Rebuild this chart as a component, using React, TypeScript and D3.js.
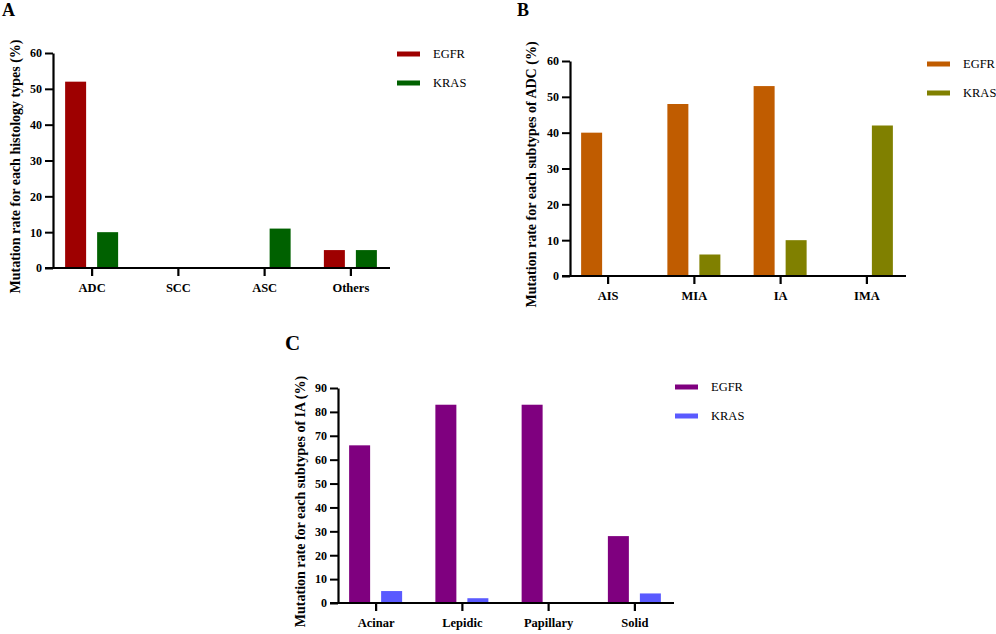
import React, { useEffect, useRef } from "react";
import * as d3 from "d3";

// Panel A: histology types
const histologyTypes = ["ADC", "SCC", "ASC", "Others"];
const histologyEgfr = [52, 0, 0, 5];
const histologyKras = [10, 0, 11, 5];

// Panel B: subtypes of ADC
const adcSubtypes = ["AIS", "MIA", "IA", "IMA"];
const adcEgfr = [40, 48, 53, 0];
const adcKras = [0, 6, 10, 42];

// Panel C: subtypes of IA
const iaSubtypes = ["Acinar", "Lepidic", "Papillary", "Solid"];
const iaEgfr = [66, 83, 83, 28];
const iaKras = [5, 2, 0, 4];

const seriesNames = ["EGFR", "KRAS"];
const yTicks60 = [0, 10, 20, 30, 40, 50, 60];
const yTicks90 = [0, 10, 20, 30, 40, 50, 60, 70, 80, 90];

interface Panel {
  letter: string;
  title: string;
  categories: string[];
  egfr: number[];
  kras: number[];
  ticks: number[];
  colors: string[];
  // layout
  axisX: number;
  xEnd: number;
  yTop: number;
  yZero: number;
  bandLeft: number;
  bandRight: number;
  titleX: number;
  letterX: number;
  letterY: number;
  letterSize: number;
  legendX: number;
  legendY: number;
}

const panels: Panel[] = [
  {
    letter: "A",
    title: "Mutation rate for each histology types (%)",
    categories: histologyTypes,
    egfr: histologyEgfr,
    kras: histologyKras,
    ticks: yTicks60,
    colors: ["#9e0000", "#006100"],
    axisX: 53,
    xEnd: 390,
    yTop: 53,
    yZero: 268,
    bandLeft: 49,
    bandRight: 394,
    titleX: 20,
    letterX: 2,
    letterY: 16,
    letterSize: 18,
    legendX: 397,
    legendY: 54,
  },
  {
    letter: "B",
    title: "Mutation rate for each subtypes of ADC (%)",
    categories: adcSubtypes,
    egfr: adcEgfr,
    kras: adcKras,
    ticks: yTicks60,
    colors: ["#c05c00", "#808000"],
    axisX: 570,
    xEnd: 906,
    yTop: 61,
    yZero: 276,
    bandLeft: 565,
    bandRight: 910,
    titleX: 536,
    letterX: 517,
    letterY: 16,
    letterSize: 18,
    legendX: 927,
    legendY: 64,
  },
  {
    letter: "C",
    title: "Mutation rate for each subtypes of IA (%)",
    categories: iaSubtypes,
    egfr: iaEgfr,
    kras: iaKras,
    ticks: yTicks90,
    colors: ["#7f007f", "#5a5aff"],
    axisX: 338,
    xEnd: 674,
    yTop: 388,
    yZero: 603,
    bandLeft: 333,
    bandRight: 678,
    titleX: 305,
    letterX: 285,
    letterY: 350,
    letterSize: 21,
    legendX: 675,
    legendY: 387,
  },
];

const FONT = "'Liberation Serif', 'Times New Roman', serif";

function drawPanel(svg: d3.Selection<SVGSVGElement, unknown, null, undefined>, p: Panel) {
  const g = svg.append("g").attr("font-family", FONT);
  const maxY = p.ticks[p.ticks.length - 1];

  const x = d3.scaleBand().domain(p.categories).range([p.bandLeft, p.bandRight]).padding(0);
  const inner = d3.scaleBand().domain(seriesNames).range([-27, 26]).paddingInner(0.344);
  const y = d3.scaleLinear().domain([0, maxY]).range([p.yZero, p.yTop]);

  const rows = p.categories.map((c, i) => ({ cat: c, values: [p.egfr[i], p.kras[i]] }));

  // bars
  rows.forEach((r) => {
    const cx = x(r.cat)! + x.bandwidth() / 2;
    seriesNames.forEach((s, j) => {
      const v = r.values[j];
      if (v <= 0) return;
      g.append("rect")
        .attr("x", cx + inner(s)!)
        .attr("y", y(v))
        .attr("width", inner.bandwidth())
        .attr("height", y(0) - y(v))
        .attr("fill", p.colors[j]);
    });
  });

  // y axis
  const yAxis = g
    .append("g")
    .attr("transform", `translate(${p.axisX},0)`)
    .call(d3.axisLeft(y).tickValues(p.ticks).tickSize(8).tickPadding(3).tickSizeOuter(0))
    .attr("font-family", FONT);
  yAxis.select(".domain").attr("stroke-width", 2.2);
  yAxis.selectAll(".tick line").attr("stroke-width", 2);
  yAxis
    .selectAll("text")
    .attr("font-family", FONT)
    .attr("font-weight", "bold")
    .attr("font-size", 12)
    .attr("fill", "#000");

  // x axis
  g.append("line")
    .attr("x1", p.axisX - 8)
    .attr("x2", p.xEnd)
    .attr("y1", y(0))
    .attr("y2", y(0))
    .attr("stroke", "#000")
    .attr("stroke-width", 2.2);
  const xAxis = g
    .append("g")
    .attr("transform", `translate(0,${y(0)})`)
    .call(d3.axisBottom(x).tickSize(8).tickPadding(7).tickSizeOuter(0))
    .attr("font-family", FONT);
  xAxis.select(".domain").remove();
  xAxis.selectAll(".tick line").attr("stroke-width", 2.2);
  xAxis
    .selectAll("text")
    .attr("font-family", FONT)
    .attr("font-weight", "bold")
    .attr("font-size", 12.5)
    .attr("fill", "#000");

  // y title
  g.append("text")
    .attr("transform", `translate(${p.titleX},${(p.yTop + p.yZero) / 2 + 6}) rotate(-90)`)
    .attr("text-anchor", "middle")
    .attr("font-weight", "bold")
    .attr("font-size", 14)
    .text(p.title);

  // panel letter
  g.append("text")
    .attr("x", p.letterX)
    .attr("y", p.letterY)
    .attr("font-weight", "bold")
    .attr("font-size", p.letterSize)
    .text(p.letter);

  // legend
  seriesNames.forEach((s, j) => {
    const ly = p.legendY + j * 29;
    g.append("rect")
      .attr("x", p.legendX)
      .attr("y", ly - 2.5)
      .attr("width", 23)
      .attr("height", 5)
      .attr("fill", p.colors[j]);
    g.append("text")
      .attr("x", p.legendX + 36)
      .attr("y", ly + 4)
      .attr("font-size", 12.5)
      .text(s);
  });
}

const App: React.FC = () => {
  const svgRef = useRef<SVGSVGElement | null>(null);

  useEffect(() => {
    const svg = d3.select(svgRef.current!).attr("width", 996).attr("height", 634);
    svg.selectAll("*").remove();
    svg.append("rect").attr("width", 996).attr("height", 634).attr("fill", "#fff");
    panels.forEach((p) => drawPanel(svg, p));
  }, []);

  return (
    <svg
      ref={svgRef}
      style={{ position: "absolute", left: 0, top: 0, background: "#fff" }}
    ></svg>
  );
};

export default App;
